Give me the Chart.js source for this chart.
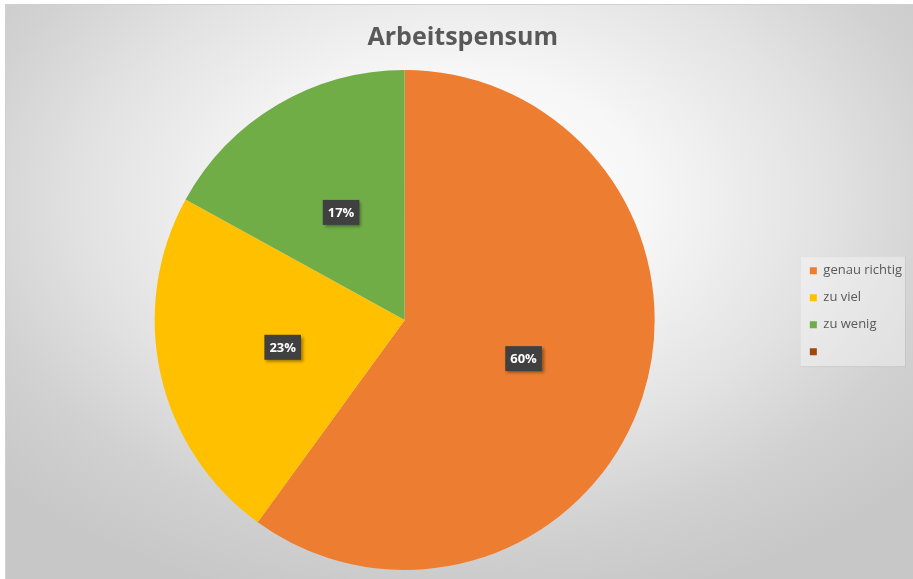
<!DOCTYPE html>
<html>
<head>
<meta charset="utf-8">
<title>Arbeitspensum</title>
<script src="https://cdn.jsdelivr.net/npm/chart.js@4.4.0/dist/chart.umd.min.js"></script>
<style>
  html, body { margin: 0; padding: 0; background: #ffffff; }
  #wrap { width: 913px; height: 579px; }
</style>
</head>
<body>
<div id="wrap"><canvas id="chart" width="913" height="579"></canvas></div>
<script>
// chart data
const chartTitle = "Arbeitspensum";
const categories = ["genau richtig", "zu viel", "zu wenig", ""];
const shares = [60, 23, 17, 0];
const sliceColors = ["#ED7D31", "#FFC000", "#70AD47", "#9E480E"];

// grey radial background + light box behind the legend
const backgroundPlugin = {
  id: "background",
  beforeDraw(chart) {
    const ctx = chart.ctx;
    const w = chart.width, h = chart.height;
    ctx.save();
    ctx.fillStyle = "#ffffff";
    ctx.fillRect(0, 0, w, h);

    const cx = 456, cy = 200, rx = 620, ry = 420;
    const s = ry / rx;
    ctx.save();
    ctx.translate(cx, cy);
    ctx.scale(1, s);
    const g = ctx.createRadialGradient(0, 0, 0, 0, 0, rx);
    g.addColorStop(0, "#ffffff");
    g.addColorStop(0.3, "#f7f7f7");
    g.addColorStop(0.6, "#e2e2e2");
    g.addColorStop(0.8, "#d1d1d1");
    g.addColorStop(1, "#c7c7c7");
    ctx.fillStyle = g;
    ctx.fillRect(5 - cx, (4 - cy) / s, w, h / s);
    ctx.restore();

    ctx.strokeStyle = "#d0d0d0";
    ctx.lineWidth = 1;
    ctx.strokeRect(5.5, 4.5, w - 5, h - 4);

    // legend frame
    const boxes = chart.legend && chart.legend.legendHitBoxes;
    if (boxes && boxes.length) {
      const top = boxes[0].top - 8;
      const bottom = boxes[boxes.length - 1].top + boxes[boxes.length - 1].height + 8;
      const left = boxes[0].left - 10;
      ctx.fillStyle = "rgba(255,255,255,0.35)";
      ctx.fillRect(left, top, w - 8 - left, bottom - top);
      ctx.strokeStyle = "rgba(0,0,0,0.05)";
      ctx.strokeRect(left + 0.5, top + 0.5, w - 8 - left, bottom - top);
    }
    ctx.restore();
  }
};

// dark percentage labels in the middle of each slice
const sliceLabelPlugin = {
  id: "sliceLabels",
  afterDatasetsDraw(chart) {
    const ctx = chart.ctx;
    const meta = chart.getDatasetMeta(0);
    const values = chart.data.datasets[0].data;
    ctx.save();
    ctx.font = "bold 13px 'Open Sans'";
    ctx.textAlign = "center";
    ctx.textBaseline = "middle";
    meta.data.forEach((arc, i) => {
      if (!values[i]) return;
      const pos = arc.tooltipPosition();
      const text = values[i] + "%";
      const bw = ctx.measureText(text).width + 10;
      const bh = 25;
      ctx.shadowColor = "rgba(0,0,0,0.4)";
      ctx.shadowOffsetX = 2;
      ctx.shadowOffsetY = 2;
      ctx.shadowBlur = 3;
      ctx.fillStyle = "#404040";
      ctx.fillRect(pos.x - bw / 2, pos.y - bh / 2, bw, bh);
      ctx.shadowColor = "transparent";
      ctx.fillStyle = "#ffffff";
      ctx.fillText(text, pos.x, pos.y + 1);
    });
    ctx.restore();
  }
};

new Chart(document.getElementById("chart"), {
  type: "pie",
  data: {
    labels: categories,
    datasets: [{
      data: shares,
      backgroundColor: sliceColors,
      borderWidth: 0
    }]
  },
  options: {
    responsive: false,
    animation: false,
    layout: { padding: { left: 13.5, right: 1, top: 4, bottom: 9 } },
    plugins: {
      title: {
        display: true,
        text: chartTitle,
        color: "#595959",
        font: { family: "'Open Sans'", size: 25, weight: "bold" },
        padding: { top: 19, bottom: 17 }
      },
      legend: {
        position: "right",
        title: {
          display: true,
          text: " ",
          font: { size: 12 },
          padding: { top: 17, bottom: 17 }
        },
        labels: {
          boxWidth: 7,
          boxHeight: 7,
          padding: 14,
          color: "#595959",
          font: { family: "'Open Sans'", size: 13 }
        }
      },
      tooltip: { enabled: false }
    }
  },
  plugins: [backgroundPlugin, sliceLabelPlugin]
});
</script>
</body>
</html>
